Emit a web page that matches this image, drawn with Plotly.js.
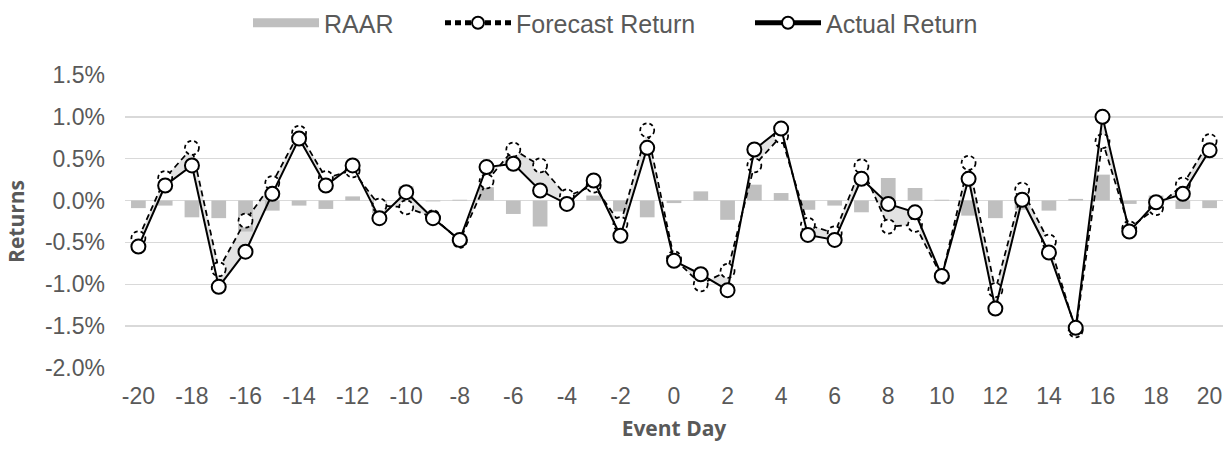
<!DOCTYPE html>
<html>
<head>
<meta charset="utf-8">
<script src="https://cdn.plot.ly/plotly-3.0.1.min.js"></script>
<style>
html,body{margin:0;padding:0;background:#fff;}
#chart{width:1232px;height:449px;}
</style>
</head>
<body>
<div id="chart"></div>
<script>
// Event days
var eventDays = [-20,-19,-18,-17,-16,-15,-14,-13,-12,-11,-10,-9,-8,-7,-6,-5,-4,-3,-2,-1,0,1,2,3,4,5,6,7,8,9,10,11,12,13,14,15,16,17,18,19,20];
// Returns in percent
var actualReturn = [-0.55,0.18,0.42,-1.03,-0.61,0.08,0.74,0.18,0.42,-0.21,0.10,-0.21,-0.47,0.40,0.44,0.12,-0.04,0.24,-0.42,0.63,-0.72,-0.88,-1.07,0.61,0.86,-0.41,-0.47,0.26,-0.04,-0.14,-0.90,0.26,-1.29,0.01,-0.62,-1.52,1.00,-0.37,-0.02,0.08,0.60];
var forecastReturn = [-0.45,0.27,0.63,-0.82,-0.24,0.21,0.81,0.27,0.36,-0.06,-0.08,-0.20,-0.48,0.23,0.61,0.42,0.05,0.18,-0.28,0.84,-0.69,-1.00,-0.84,0.42,0.77,-0.29,-0.39,0.41,-0.31,-0.29,-0.91,0.45,-1.07,0.13,-0.49,-1.55,0.71,-0.33,-0.09,0.19,0.71];
var raar = [-0.09,-0.06,-0.20,-0.21,-0.37,-0.12,-0.06,-0.10,0.05,-0.15,0.17,-0.01,0.01,0.16,-0.16,-0.31,-0.09,0.06,-0.13,-0.20,-0.03,0.11,-0.23,0.19,0.09,-0.11,-0.06,-0.14,0.27,0.15,0.01,-0.18,-0.21,-0.11,-0.12,0.02,0.31,-0.04,0.06,-0.10,-0.09];
// Tick labels
var yTickVals = [-2.0,-1.5,-1.0,-0.5,0.0,0.5,1.0,1.5];
var yTickText = ['-2.0%','-1.5%','-1.0%','-0.5%','0.0%','0.5%','1.0%','1.5%'];
var xTickVals = [-20,-18,-16,-14,-12,-10,-8,-6,-4,-2,0,2,4,6,8,10,12,14,16,18,20];
var xTickText = ['-20','-18','-16','-14','-12','-10','-8','-6','-4','-2','0','2','4','6','8','10','12','14','16','18','20'];

var grey = '#595959';
var traces = [
  {type:'bar', name:'RAAR', x:eventDays, y:raar, width:0.55, legend:'legend',
   marker:{color:'#bfbfbf'}, hoverinfo:'skip'},
  {type:'scatter', mode:'lines', x:eventDays, y:forecastReturn, showlegend:false,
   line:{width:0, color:'rgba(0,0,0,0)'}, hoverinfo:'skip'},
  {type:'scatter', mode:'lines', x:eventDays, y:actualReturn, showlegend:false,
   fill:'tonexty', fillcolor:'rgba(190,190,190,0.45)',
   line:{width:0, color:'rgba(0,0,0,0)'}, hoverinfo:'skip'},
  {type:'scatter', mode:'lines+markers', name:'Forecast Return', x:eventDays, y:forecastReturn, legend:'legend2',
   line:{color:'#000', width:1.75, dash:'6px,4px'},
   marker:{symbol:'circle', size:14, color:'#fff', line:{color:'#000', width:1.75}}},
  {type:'scatter', mode:'lines+markers', name:'Actual Return', x:eventDays, y:actualReturn, legend:'legend3',
   line:{color:'#000', width:2},
   marker:{symbol:'circle', size:14, color:'#fff', line:{color:'#000', width:2}}}
];

function legendAt(px){
  return {orientation:'h', xref:'container', yref:'container', x:px/1232, xanchor:'left', y:1.0, yanchor:'top',
          itemwidth:66, font:{size:25, color:grey}, itemsizing:'constant', bgcolor:'rgba(0,0,0,0)'};
}

var layout = {
  width:1232, height:449,
  margin:{l:125, r:9, t:75, b:81},
  paper_bgcolor:'#fff', plot_bgcolor:'#fff',
  font:{family:'"Liberation Sans", Arial, sans-serif', color:grey, size:23},
  showlegend:true,
  legend:legendAt(324-76),
  legend2:legendAt(516-76),
  legend3:legendAt(826-76),
  barmode:'overlay',
  xaxis:{range:[-20.5,20.5], tickmode:'array', tickvals:xTickVals, ticktext:xTickText,
         showgrid:false, zeroline:false, showline:false, ticks:'', ticklabelstandoff:12,
         tickfont:{size:23, color:grey},
         title:{text:'Event Day', standoff:13, font:{family:'"Open Sans", sans-serif', size:21, color:grey, weight:'bold'}}},
  yaxis:{range:[-2.0,1.5], tickmode:'array', tickvals:yTickVals, ticktext:yTickText,
         showgrid:true, gridcolor:'#d9d9d9', gridwidth:1.5, zeroline:false, showline:false, ticks:'', ticklabelstandoff:19,
         tickfont:{size:23, color:grey},
         title:{text:'Returns', standoff:14, font:{family:'"Open Sans", sans-serif', size:21, color:grey, weight:'bold'}}}
};

function styleLegend(){
  var gd = document.getElementById('chart');
  var tr = gd.querySelectorAll('.scatterlayer .trace');
  if (tr[2]) tr[2].querySelectorAll('.points path').forEach(function(p){ p.style.strokeDasharray='4px,3px'; });
  gd.querySelectorAll('.traces').forEach(function(t){
    var txt = t.querySelector('.legendtext');
    if (!txt) return;
    if (txt.textContent === 'Forecast Return') {
      t.querySelectorAll('.legendpoints path').forEach(function(p){ p.style.strokeDasharray='4px,3px'; });
      t.querySelectorAll('.legendlines path').forEach(function(p){ p.style.strokeWidth='1.5px'; p.style.strokeDasharray='6px,4px'; });
    }
    if (txt.textContent === 'Actual Return') {
      t.querySelectorAll('.legendlines path').forEach(function(p){ p.style.strokeWidth='2px'; });
    }
    if (txt.textContent === 'RAAR') {
      t.querySelectorAll('.legendpoints path').forEach(function(p){ p.setAttribute('d','M33,4.5H-33V-4.5H33Z'); p.style.strokeWidth='0'; });
    }
  });
}
Plotly.newPlot('chart', traces, layout, {displayModeBar:false, staticPlot:true}).then(function(gd){
  styleLegend();
  gd.on('plotly_afterplot', styleLegend);
});
</script>
</body>
</html>
